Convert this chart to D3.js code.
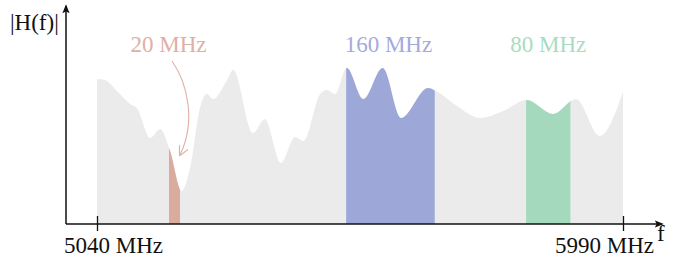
<!DOCTYPE html>
<html><head><meta charset="utf-8">
<script src="https://cdn.jsdelivr.net/npm/d3@7"></script>
<style>body{margin:0;background:#fff}svg{display:block}text{font-family:"Liberation Serif","Times New Roman",serif}</style>
</head><body><svg id="c" width="678" height="259"></svg>
<script>
const freqs = [5040,5054,5076,5100,5112,5136,5154,5172,5193,5208,5226,5238,5250,5274,5286,5322,5343,5372,5398,5413,5443,5455,5470,5491,5521,5556,5589,5638,5652,5690,5732,5774,5816,5864,5905,5948,5990];
const mags  = [145,144,133,120,116,86,95,73,33,56,116,130,125,143,154,91,105,61,87,83,130,134,130,156,125,156,106,136,133,118,106,113,124,110,125,88,132];
const bandLabels = ["20 MHz","160 MHz","80 MHz"];
const bandStart = [5170,5490,5815];
const bandEnd = [5190,5650,5895];
const bandColors = ["#dbab9f","#9ea8d8","#a5d9be"];
const labelColors = ["#deb0a5","#a3abdd","#a8dcc1"];
const tickValues = [5040,5990];
const tickLabels = ["5040 MHz","5990 MHz"];

const svg = d3.select("#c");
const x = d3.scaleLinear().domain([5040,5990]).range([97,623]);
const y = d3.scaleLinear().domain([0,160]).range([224,64]);
const data = freqs.map((f,i)=>({f, m:mags[i]}));
const area = d3.area().x(d=>x(d.f)).y0(y(0)).y1(d=>y(d.m)).curve(d3.curveMonotoneX);

svg.append("path").attr("d",area(data)).attr("fill","#ebebeb");

const defs = svg.append("defs");
bandStart.forEach((s,i)=>{
  defs.append("clipPath").attr("id","cl"+i).append("rect")
    .attr("x",x(s)).attr("y",0).attr("width",x(bandEnd[i])-x(s)).attr("height",259);
  svg.append("path").attr("d",area(data)).attr("fill",bandColors[i]).attr("clip-path","url(#cl"+i+")");
});

// labels
const labelOffset = [-6,-2,0];
bandLabels.forEach((t,i)=>{
  svg.append("text").attr("x",x((bandStart[i]+bandEnd[i])/2)+labelOffset[i]).attr("y",52)
    .attr("text-anchor","middle").attr("font-size",23).attr("fill",labelColors[i]).text(t);
});

// arrow
defs.append("marker").attr("id","ah").attr("viewBox","0 0 10 10").attr("refX",9).attr("refY",5)
  .attr("markerWidth",10).attr("markerHeight",10).attr("markerUnits","userSpaceOnUse").attr("orient","auto")
  .append("path").attr("d","M0,0 L10,5 L0,10").attr("fill","none").attr("stroke",labelColors[0]).attr("stroke-width",1.2);
svg.append("path").attr("d","M172,61 C188,84 196,122 180,155").attr("fill","none")
  .attr("stroke",labelColors[0]).attr("stroke-width",1.1).attr("marker-end","url(#ah)");

// axes
defs.append("marker").attr("id","ax").attr("viewBox","0 0 10 10").attr("refX",8).attr("refY",5)
  .attr("markerWidth",9).attr("markerHeight",9).attr("markerUnits","userSpaceOnUse").attr("orient","auto")
  .append("path").attr("d","M0,1 L10,5 L0,9 L2,5 Z").attr("fill","#111");
svg.append("line").attr("x1",66).attr("y1",y(0)).attr("x2",66).attr("y2",6)
  .attr("stroke","#111").attr("stroke-width",1.5).attr("marker-end","url(#ax)");
svg.append("line").attr("x1",66).attr("y1",y(0)).attr("x2",662).attr("y2",y(0))
  .attr("stroke","#111").attr("stroke-width",1.5).attr("marker-end","url(#ax)");

const ax = svg.append("g").attr("transform",`translate(0,${y(0)})`)
  .call(d3.axisBottom(x).tickValues(tickValues).tickFormat((d,i)=>tickLabels[i]).tickSize(0));
ax.select(".domain").remove();
ax.selectAll(".tick line").attr("y1",-8).attr("y2",7).attr("stroke","#111").attr("stroke-width",1.3);
const tickDx = [16,-19];
ax.selectAll(".tick text").attr("font-size",23).attr("fill","#111").attr("y",29)
  .attr("dy",0).attr("dx",(d,i)=>tickDx[i]).style("font-family","Liberation Serif, serif");

svg.append("text").attr("x",10).attr("y",30).attr("font-size",23).attr("fill","#111").text("|H(f)|");
svg.append("text").attr("x",657).attr("y",241).attr("font-size",23).attr("fill","#111").text("f");
</script></body></html>
